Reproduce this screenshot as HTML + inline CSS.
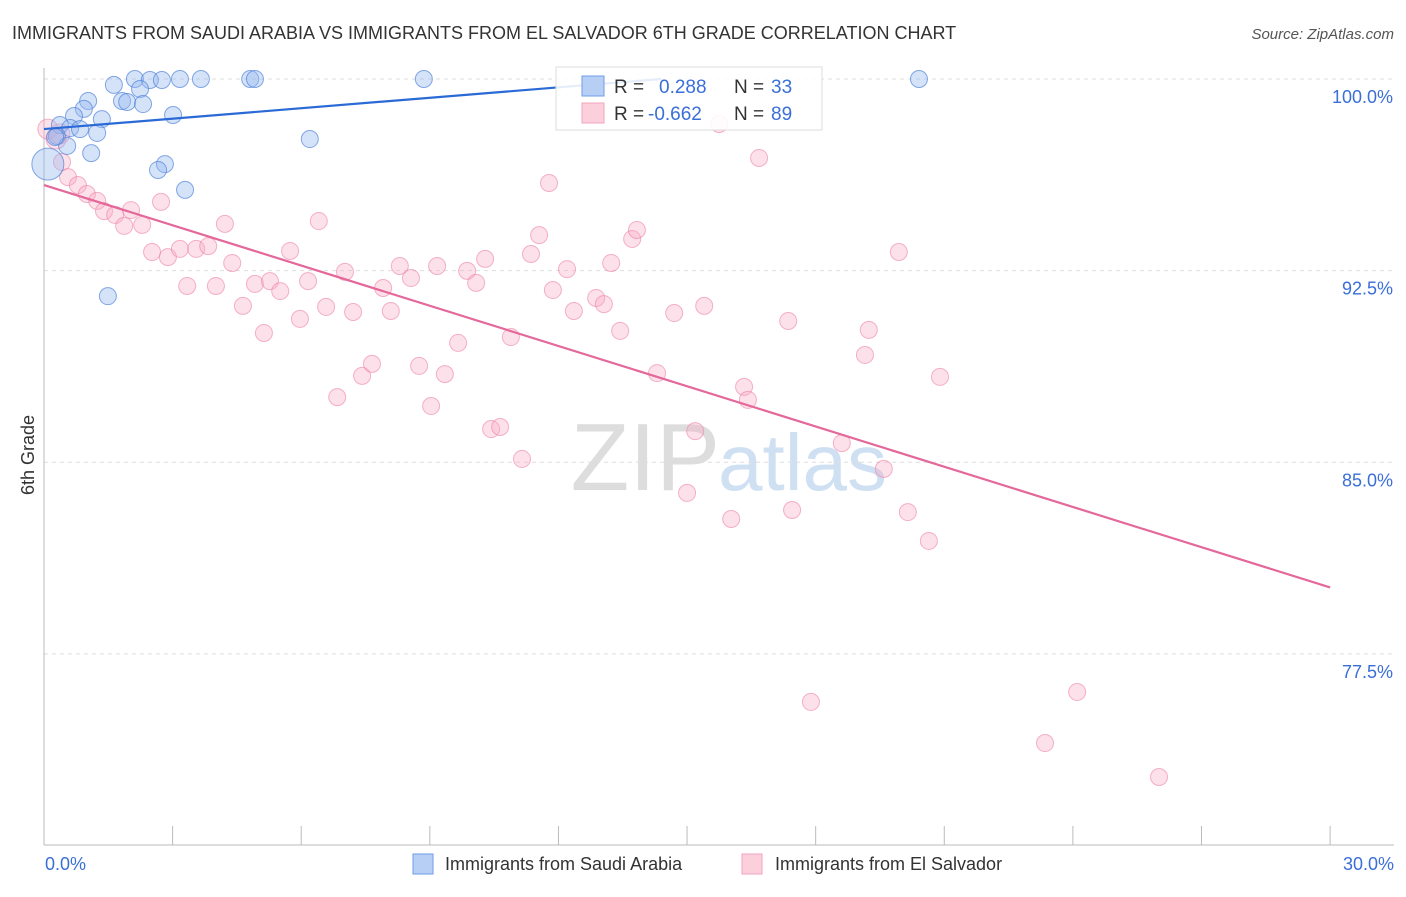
<!DOCTYPE html>
<html><head><meta charset="utf-8"><style>
body{margin:0;background:#fff;font-family:"Liberation Sans",sans-serif}
svg text{font-family:"Liberation Sans",sans-serif}
</style></head><body>
<svg id="c" width="1406" height="892" xmlns="http://www.w3.org/2000/svg">
<text x="12" y="39" font-size="18" fill="#333">IMMIGRANTS FROM SAUDI ARABIA VS IMMIGRANTS FROM EL SALVADOR 6TH GRADE CORRELATION CHART</text>
<text x="1394" y="39" font-size="15" fill="#555" text-anchor="end" font-style="italic">Source: ZipAtlas.com</text>
<text x="720" y="490" font-size="96" fill="#ddd" text-anchor="end" font-family="Liberation Serif">ZIP</text>
<text x="718" y="490" font-size="80" fill="#cfe0f3">atlas</text>
<g id="grid"></g><g id="axes"></g><g id="pts"></g><g id="lines"></g>
<text transform="translate(34,455) rotate(-90)" font-size="18" fill="#333" text-anchor="middle">6th Grade</text>
<text x="45" y="870" font-size="18" fill="#3a6fd8">0.0%</text>
<text x="1394" y="870" font-size="18" fill="#3a6fd8" text-anchor="end">30.0%</text>
<g>
<rect x="556" y="67" width="266" height="63" fill="rgba(255,255,255,0.88)" stroke="#ddd"/>
<rect x="582" y="76" width="22" height="20" fill="#b7cff5" stroke="#6f9ee8"/>
<rect x="582" y="103" width="22" height="20" fill="#fbcfdc" stroke="#f2a5bd"/>
<text x="614" y="93" font-size="19" fill="#333">R = </text><text x="659" y="93" font-size="19" fill="#3a6fd8">0.288</text>
<text x="734" y="93" font-size="19" fill="#333">N = </text><text x="771" y="93" font-size="19" fill="#3a6fd8">33</text>
<text x="614" y="120" font-size="19" fill="#333">R = </text><text x="648" y="120" font-size="19" fill="#3a6fd8">-0.662</text>
<text x="734" y="120" font-size="19" fill="#333">N = </text><text x="771" y="120" font-size="19" fill="#3a6fd8">89</text>
</g>
<g>
<rect x="413" y="854" width="20" height="20" fill="#b7cff5" stroke="#6f9ee8"/>
<text x="445" y="870" font-size="18" fill="#333">Immigrants from Saudi Arabia</text>
<rect x="742" y="854" width="20" height="20" fill="#fbcfdc" stroke="#f2a5bd"/>
<text x="775" y="870" font-size="18" fill="#333">Immigrants from El Salvador</text>
</g>
</svg>
<script>
const blueX=[2.12,2.47,2.75,3.17,3.66,4.81,4.92,8.86,20.41,1.63,2.24,1.03,1.82,1.94,2.31,0.93,0.70,1.35,3.01,0.37,0.61,0.84,1.24,0.30,0.54,1.10,6.20,2.82,2.66,3.29,1.49,0.26,0.09];
const blueY=[100,99.96,99.96,100,100,100,100,100,100,99.77,99.61,99.14,99.14,99.1,99.02,98.83,98.55,98.43,98.59,98.2,98.08,98.04,97.89,97.77,97.38,97.1,97.65,96.67,96.44,95.66,91.5,97.73,96.67];
const pinkX=[0.09,0.37,0.28,0.42,0.56,0.79,1.00,1.24,1.40,1.66,1.87,2.03,2.29,2.73,2.52,2.89,3.17,3.55,3.83,3.34,4.01,4.22,4.39,4.64,4.92,5.13,5.27,5.51,5.74,5.97,6.16,6.41,6.58,6.84,7.02,7.21,7.42,7.65,7.91,8.09,8.30,8.56,8.75,9.03,9.17,9.35,9.66,9.87,10.08,10.29,10.43,10.64,10.89,11.15,11.36,11.55,11.78,11.87,12.2,12.36,12.88,13.06,13.23,13.44,13.72,13.83,14.3,14.7,15.0,15.19,15.4,15.75,16.03,16.33,16.42,16.68,17.36,17.45,17.89,18.61,19.15,19.24,19.59,19.94,20.15,20.64,20.9,23.35,24.1,26.01];
const pinkY=[98.04,97.85,97.65,96.75,96.16,95.85,95.5,95.23,94.83,94.68,94.25,94.87,94.29,95.19,93.23,93.03,93.35,93.35,93.46,91.9,91.9,94.33,92.8,91.12,91.98,90.06,92.09,91.7,93.27,90.61,92.09,94.44,91.08,87.55,92.45,90.88,88.38,88.85,91.82,90.92,92.68,92.21,88.77,87.2,92.68,88.45,89.67,92.49,92.02,92.96,86.3,86.38,89.9,85.13,93.15,93.89,95.93,91.74,92.56,90.92,91.43,91.19,92.8,90.14,93.74,94.09,88.49,90.84,83.8,86.22,91.12,98.24,82.78,87.95,87.44,96.91,90.53,83.13,75.62,85.75,89.2,90.18,84.74,93.23,83.05,81.92,88.34,74.01,76.01,72.68];
const yTicks=[100,92.5,85,77.5];
const yTickLabels=["100.0%","92.5%","85.0%","77.5%"];
const xTicks=[0,3,6,9,12,15,18,21,24,27,30];
const blueTrend=[[0,98.04],[14.4,100.0]];
const pinkTrend=[[0,95.85],[30,80.1]];
const NS="http://www.w3.org/2000/svg";
const sx=v=>44+v*42.87, sy=v=>79+(100-v)*25.55;
function mk(tag,attrs,parent){const e=document.createElementNS(NS,tag);for(const k in attrs)e.setAttribute(k,attrs[k]);document.getElementById(parent).appendChild(e);return e;}
yTicks.forEach((t,i)=>{
 const l=mk('line',{x1:44,x2:1394,y1:sy(t),y2:sy(t),stroke:'#ddd','stroke-dasharray':'4,4'},'grid');
 
 
 const tx=mk('text',{x:1393,y:sy(t)+24,'font-size':18,fill:'#3a6fd8','text-anchor':'end'},'grid');
 tx.textContent=yTickLabels[i];
 
 
});
const ax=mk('line',{x1:44,x2:44,y1:68,y2:845,stroke:'#bbb'},'axes');


const bx=mk('line',{x1:44,x2:1394,y1:845,y2:845,stroke:'#bbb'},'axes');


xTicks.forEach(t=>{
 const l=mk('line',{x1:sx(t),x2:sx(t),y1:826,y2:845,stroke:'#bbb'},'axes');
 
 
});
pinkX.forEach((x,i)=>{
 const c=mk('circle',{cx:sx(x),cy:sy(pinkY[i]),r:i<3?10:8.5,fill:'rgba(248,170,195,0.35)',stroke:'rgba(236,130,165,0.6)','stroke-width':1},'pts');
 
 
});
blueX.forEach((x,i)=>{
 const big=i===blueX.length-1;
 const c=mk('circle',{cx:sx(x),cy:sy(blueY[i]),r:big?16:8.5,fill:'rgba(150,185,240,0.4)',stroke:'rgba(70,125,215,0.65)','stroke-width':1},'pts');
 
 
});
const bl=mk('line',{x1:sx(blueTrend[0][0]),y1:sy(blueTrend[0][1]),x2:sx(blueTrend[1][0]),y2:sy(blueTrend[1][1]),stroke:'#2a6ad6','stroke-width':2.2},'lines');


const pl=mk('line',{x1:sx(pinkTrend[0][0]),y1:sy(pinkTrend[0][1]),x2:sx(pinkTrend[1][0]),y2:sy(pinkTrend[1][1]),stroke:'#e4689a','stroke-width':2.2},'lines');


</script>
</body></html>
